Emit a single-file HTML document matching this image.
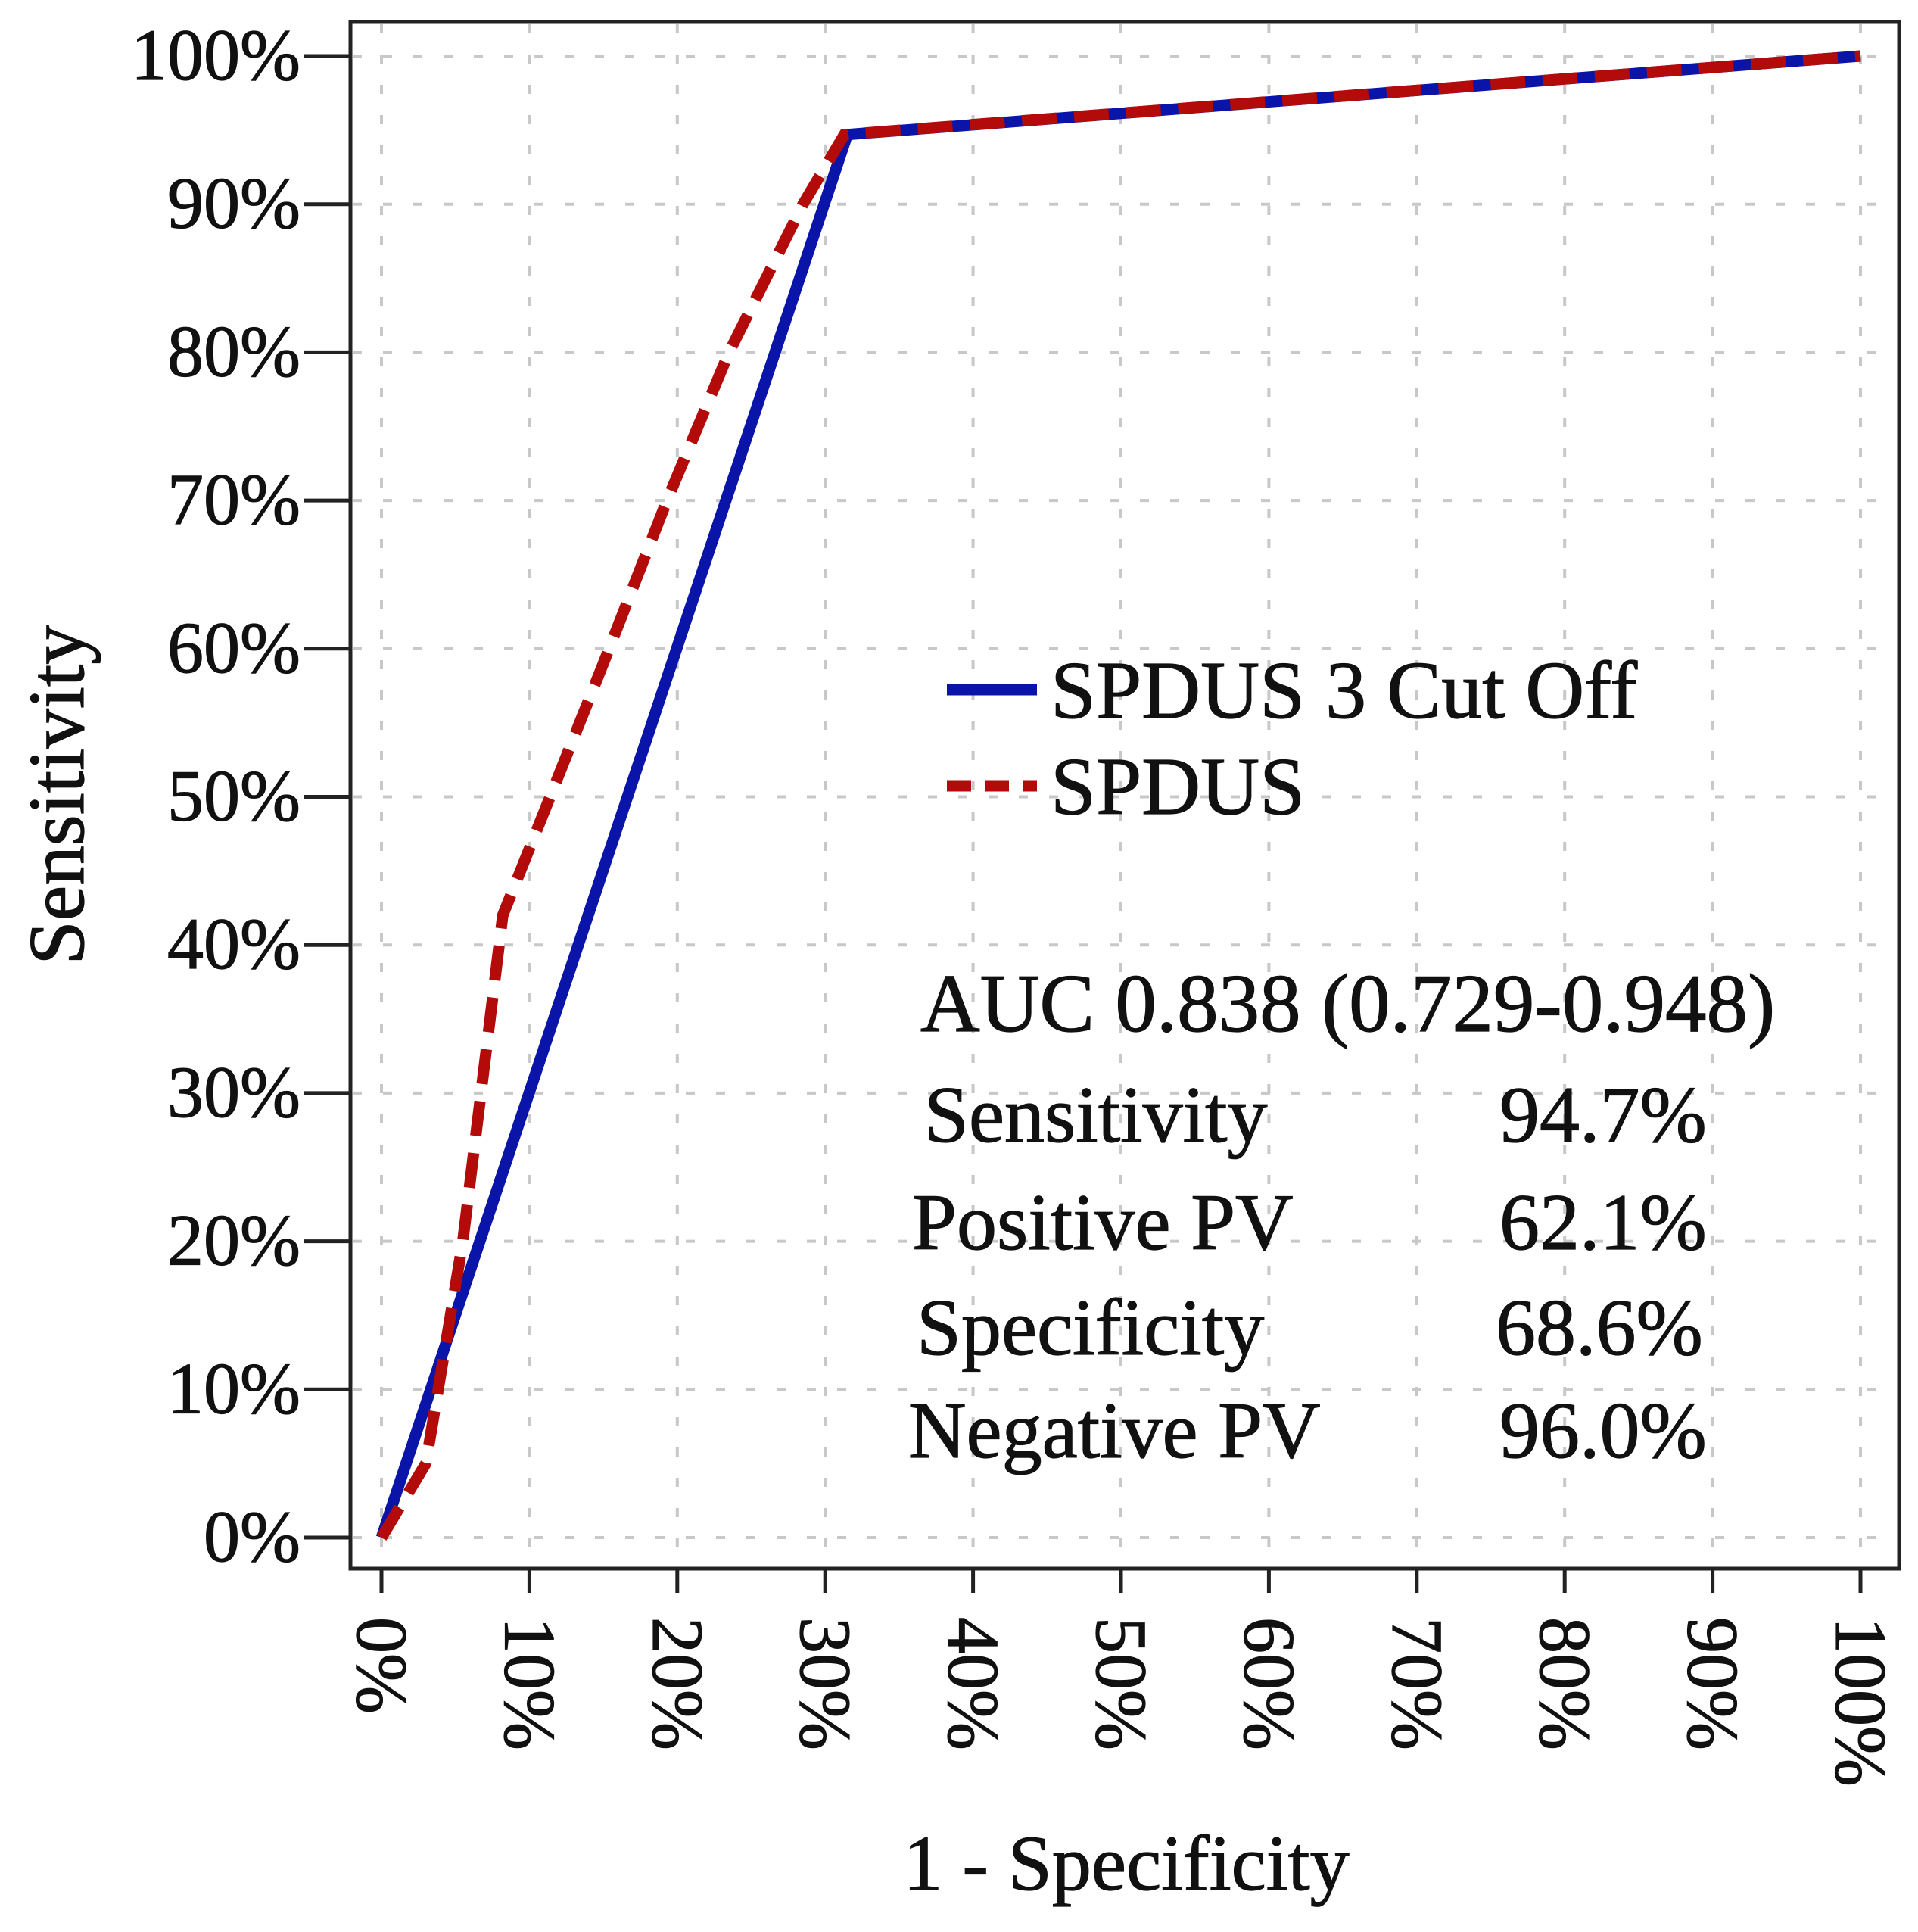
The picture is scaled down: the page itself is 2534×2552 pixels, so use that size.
<!DOCTYPE html>
<html><head><meta charset="utf-8"><style>html,body{margin:0;padding:0;background:#fff}svg{display:block}text{font-family:"Liberation Serif",serif;fill:#111;stroke:#111;stroke-width:1.2}</style></head>
<body>
<svg id="chart" width="2534" height="2552" viewBox="0 0 2534 2552" xmlns="http://www.w3.org/2000/svg">
<rect x="0" y="0" width="2534" height="2552" fill="#fff"/>
<g id="grid"></g>
<rect x="463" y="29" width="2046" height="2043" fill="none" stroke="#222" stroke-width="5"/>
<g id="axes"></g>
<g id="series"></g>
<text transform="translate(110,1050) rotate(-90)" text-anchor="middle" font-size="105">Sensitivity</text>
<text x="1488" y="2496" text-anchor="middle" font-size="104">1 - Specificity</text>
<g>
<line x1="1251" y1="911" x2="1370" y2="911" stroke="#0a14a8" stroke-width="15"/>
<text x="1388" y="948" font-size="108">SPDUS 3 Cut Off</text>
<line x1="1251" y1="1038" x2="1370" y2="1038" stroke="#b30a0a" stroke-width="15" stroke-dasharray="32,18"/>
<text x="1388" y="1075" font-size="108">SPDUS</text>
</g>
<g font-size="106">
<text x="1216" y="1362" font-size="109">AUC 0.838 (0.729-0.948)</text>
<text x="1221" y="1508">Sensitivity</text>
<text x="1981" y="1508">94.7%</text>
<text x="1205" y="1650">Positive PV</text>
<text x="1981" y="1650">62.1%</text>
<text x="1211" y="1789">Specificity</text>
<text x="1976" y="1789">68.6%</text>
<text x="1200" y="1925">Negative PV</text>
<text x="1981" y="1925">96.0%</text>
</g>
</svg>
<script>
const tickValues=[0,10,20,30,40,50,60,70,80,90,100];
const tickLabels=["0%","10%","20%","30%","40%","50%","60%","70%","80%","90%","100%"];
const cutoffX=[0,31.5,100];
const cutoffY=[0,94.7,100];
const spdusX=[0,3,5.5,8.2,11.4,15,19.3,23.5,28.5,31.3,100];
const spdusY=[0,5,20,42,50,59,70,80,90,94.7,100];
const NS='http://www.w3.org/2000/svg';
function sx(v){return 504+(2458-504)*v/100;}
function sy(v){return 2031-(2031-74)*v/100;}
function mk(tag,attrs,parent){const e=document.createElementNS(NS,tag);for(const k in attrs)e.setAttribute(k,attrs[k]);parent.appendChild(e);return e;}
const grid=document.getElementById('grid'),axes=document.getElementById('axes'),series=document.getElementById('series');
tickValues.forEach((v,i)=>{
 let g1=mk('line',{x1:466,x2:2506,y1:sy(v),y2:sy(v),stroke:'#c8c8c8','stroke-width':4,'stroke-dasharray':'12,28'},grid);
 
 
 let g2=mk('line',{x1:sx(v),x2:sx(v),y1:32,y2:2069,stroke:'#c8c8c8','stroke-width':4,'stroke-dasharray':'12,28'},grid);
 
 
 let t1=mk('line',{x1:401,x2:463,y1:sy(v),y2:sy(v),stroke:'#222','stroke-width':5},axes);
 
 
 let l1=mk('text',{x:397,y:sy(v)+31,'text-anchor':'end','font-size':96},axes);
 l1.textContent=tickLabels[i];
 
 
 let t2=mk('line',{x1:sx(v),x2:sx(v),y1:2072,y2:2104,stroke:'#222','stroke-width':5},axes);
 
 
 let l2=mk('text',{transform:`translate(${sx(v)-32},2136) rotate(90)`,'text-anchor':'start','font-size':96},axes);
 l2.textContent=tickLabels[i];
 
 
});
function pts(xs,ys){return xs.map((x,i)=>sx(x)+','+sy(ys[i])).join(' ');}
let b=mk('polyline',{points:pts(cutoffX,cutoffY),fill:'none',stroke:'#0a14a8','stroke-width':15,'stroke-linejoin':'round'},series);


let r=mk('polyline',{points:pts(spdusX,spdusY),fill:'none',stroke:'#b30a0a','stroke-width':15,'stroke-dasharray':'46,23'},series);


</script>
</body></html>
